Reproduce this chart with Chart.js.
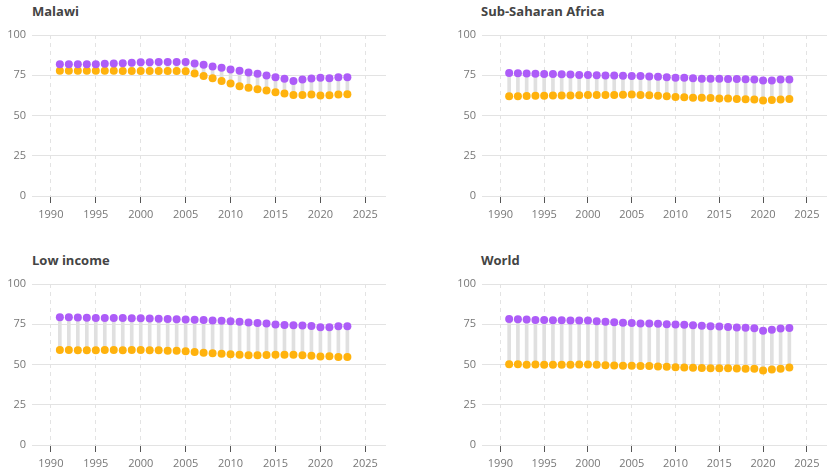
<!DOCTYPE html>
<html>
<head>
<meta charset="utf-8">
<script src="https://cdn.jsdelivr.net/npm/chart.js@4.4.1/dist/chart.umd.min.js"></script>
<style>
  body { margin: 0; background: #fff; font-family: "Open Sans", sans-serif; }
  #wrap { position: relative; width: 831px; height: 471px; }
  .panel { position: absolute; }
  .titre { position: absolute; font-weight: 700; font-size: 13px; color: #444; white-space: nowrap; }
</style>
</head>
<body>
<div id="wrap">
  <div class="titre" style="left:32px;top:2px">Malawi</div>
  <div class="titre" style="left:481px;top:2px">Sub-Saharan Africa</div>
  <div class="titre" style="left:32px;top:251px">Low income</div>
  <div class="titre" style="left:481px;top:251px">World</div>
  <div class="panel" style="left:0;top:0;width:390px;height:226px"><canvas id="c1"></canvas></div>
  <div class="panel" style="left:450px;top:0;width:381px;height:226px"><canvas id="c2"></canvas></div>
  <div class="panel" style="left:0;top:249px;width:390px;height:226px"><canvas id="c3"></canvas></div>
  <div class="panel" style="left:450px;top:249px;width:381px;height:226px"><canvas id="c4"></canvas></div>
</div>
<script>
// années et ticks
const annees = [1991,1992,1993,1994,1995,1996,1997,1998,1999,2000,2001,2002,2003,2004,2005,2006,2007,2008,2009,2010,2011,2012,2013,2014,2015,2016,2017,2018,2019,2020,2021,2022,2023];
const ticksX = [1990, 1995, 2000, 2005, 2010, 2015, 2020, 2025];
const ticksY = [0, 25, 50, 75, 100];

// Malawi
const malawiHommes = [81.9,81.9,81.9,81.9,81.9,82.1,82.3,82.5,82.7,83.0,83.0,83.2,83.2,83.2,83.2,82.3,81.5,80.5,79.6,78.6,77.8,76.7,75.9,74.8,73.8,72.8,71.5,72.3,73.0,73.4,73.2,73.8,73.8];
const malawiFemmes = [77.8,77.8,77.8,77.8,77.8,77.8,77.8,77.7,77.7,77.7,77.6,77.6,77.6,77.6,77.5,76.1,74.6,73.2,71.5,69.9,68.2,67.2,66.3,65.5,64.4,63.6,62.8,62.8,63.0,62.4,62.6,63.0,63.2];

// Sub-Saharan Africa
const ssaHommes = [76.4,76.3,76.1,76.0,75.8,75.7,75.6,75.4,75.2,75.1,75.0,74.9,74.8,74.7,74.6,74.5,74.3,74.1,73.8,73.5,73.4,73.1,72.9,72.8,72.8,72.7,72.6,72.5,72.4,71.7,71.8,72.3,72.4];
const ssaFemmes = [61.9,62.0,62.1,62.2,62.3,62.4,62.5,62.5,62.6,62.7,62.7,62.8,62.8,62.9,63.0,62.8,62.6,62.3,61.9,61.5,61.4,61.1,61.0,60.8,60.6,60.5,60.3,60.1,60.0,59.3,59.7,60.0,60.2];

// Low income
const lowHommes = [79.3,79.3,79.2,79.0,78.9,78.9,78.9,78.9,78.8,78.7,78.5,78.4,78.2,78.1,78.0,77.8,77.6,77.3,77.1,76.9,76.6,76.1,75.7,75.4,74.9,74.6,74.4,74.2,73.9,73.1,73.1,73.8,73.7];
const lowFemmes = [59.0,59.0,58.8,58.8,58.9,59.0,59.0,58.9,59.0,59.0,58.9,58.8,58.6,58.5,58.3,57.8,57.3,57.0,56.7,56.4,56.1,55.8,55.8,55.9,56.0,56.0,56.0,55.8,55.5,54.9,55.1,54.7,54.6];

// World
const mondeHommes = [78.3,78.1,77.9,77.7,77.6,77.5,77.5,77.4,77.4,77.3,76.9,76.6,76.3,76.0,75.7,75.5,75.4,75.3,75.0,74.9,74.7,74.4,74.1,73.8,73.6,73.3,73.0,72.8,72.5,71.0,71.6,72.3,72.6];
const mondeFemmes = [50.1,50.1,49.9,50.0,49.9,49.9,49.9,49.9,50.0,50.0,49.8,49.6,49.4,49.3,49.2,49.1,49.0,48.8,48.6,48.3,48.1,48.0,47.9,47.7,47.6,47.6,47.5,47.4,47.4,46.3,46.9,47.3,48.1];

const violet = '#ad5cf8';
const orange = '#ffb20d';

function creerGraphique(id, hommes, femmes) {
  const ctx = document.getElementById(id).getContext('2d');
  return new Chart(ctx, {
    type: 'scatter',
    data: {
      datasets: [
        {
          type: 'bar',
          data: annees.map((a, i) => ({ x: a, y: [femmes[i], hommes[i]] })),
          backgroundColor: '#e0e0e0',
          barThickness: 3,
          order: 3
        },
        {
          data: annees.map((a, i) => ({ x: a, y: hommes[i] })),
          backgroundColor: violet,
          borderWidth: 0,
          pointRadius: 4,
          order: 1
        },
        {
          data: annees.map((a, i) => ({ x: a, y: femmes[i] })),
          backgroundColor: orange,
          borderWidth: 0,
          pointRadius: 4,
          order: 2
        }
      ]
    },
    options: {
      responsive: true,
      maintainAspectRatio: false,
      animation: false,
      layout: { padding: { top: 35, right: 1, left: 0, bottom: 0 } },
      plugins: { legend: { display: false }, tooltip: { enabled: false } },
      scales: {
        x: {
          type: 'linear',
          offset: false,
          min: 1987.9,
          max: 2027.3,
          afterBuildTicks: s => { s.ticks = ticksX.map(v => ({ value: v })); },
          afterFit: s => { s.height = 30; },
          grid: { offset: false, color: '#e3e3e3', tickColor: '#555', tickLength: 7, tickBorderDash: [] },
          border: { display: false, dash: [4, 4] },
          ticks: { color: '#777', font: { family: 'Open Sans', size: 11 }, padding: 5, maxRotation: 0, callback: v => String(v) }
        },
        y: {
          min: 0,
          max: 100,
          afterBuildTicks: s => { s.ticks = ticksY.map(v => ({ value: v })); },
          afterFit: s => { s.width = 32; },
          grid: { color: '#e3e3e3', drawTicks: false },
          border: { display: false },
          ticks: { color: '#777', font: { family: 'Open Sans', size: 11 }, padding: 6 }
        }
      }
    }
  });
}

creerGraphique('c1', malawiHommes, malawiFemmes);
creerGraphique('c2', ssaHommes, ssaFemmes);
creerGraphique('c3', lowHommes, lowFemmes);
creerGraphique('c4', mondeHommes, mondeFemmes);
</script>
</body>
</html>
